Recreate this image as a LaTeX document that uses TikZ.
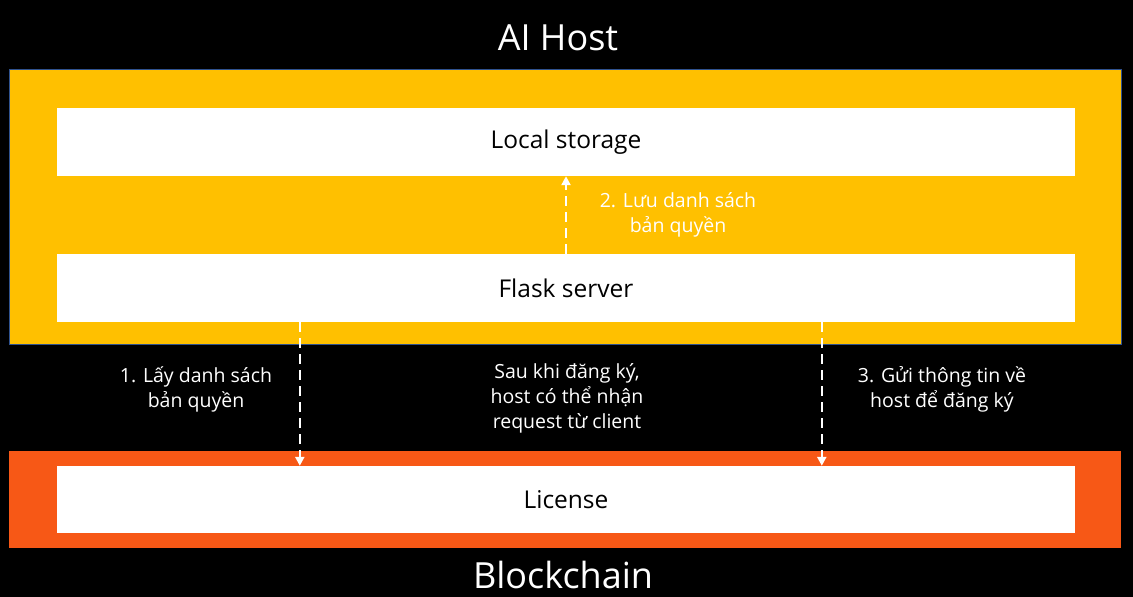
\documentclass[tikz,border=0pt]{standalone}
\usepackage{fontspec}
\setmainfont{Open Sans}
\usetikzlibrary{arrows.meta}
\definecolor{hostyellow}{HTML}{FFC000}
\definecolor{chainorange}{HTML}{F75816}
\definecolor{edgeblue}{HTML}{2F528F}
\tikzset{
  region/.style={rectangle, inner sep=0pt, minimum width=1112pt},
  innerbox/.style={rectangle, fill=white, inner sep=0pt, minimum width=1018pt, minimum height=68pt, font=\fontsize{24.5}{28}\selectfont, text=black},
  title/.style={font=\fontsize{36}{42}\selectfont, text=white},
  label/.style={align=center, text=white, font=\fontsize{19.5}{25}\selectfont},
  flow/.style={white, line width=2.5pt, dash pattern=on 10pt off 6pt, -{Triangle[width=9pt,length=9pt]}, shorten >=0pt}
}
\begin{document}
\begin{tikzpicture}[x=1pt,y=-1pt]
\fill[black] (0,0) rectangle (1133,597);
\useasboundingbox (0,0) rectangle (1133,597);
\node[title] (hosttitle) at (558,38) {AI Host};
\node[region, fill=hostyellow, draw=edgeblue, line width=0.8pt, minimum height=275pt] (host) at (565,206.5) {};
\node[innerbox] (local) at (566,142) {Local storage};
\node[innerbox] (flask) at (566,288) {Flask server};
\node[region, fill=chainorange, minimum height=97pt] (chain) at (565,499.5) {};
\node[innerbox, minimum height=67pt] (license) at (566,499.5) {License};
\node[title] (chaintitle) at (563,575) {Blockchain};
\draw[flow] (flask.north) -- (local.south);
\draw[flow] ([xshift=243pt]flask.south west) -- ([xshift=243pt]license.north west);
\draw[flow] ([xshift=765pt]flask.south west) -- ([xshift=765pt]license.north west);
\node[label] (l2) at (678,215) {2. Lưu danh sách\\bản quyền};
\node[label] (l1) at (196,389) {1. Lấy danh sách\\bản quyền};
\node[label] (lmid) at (567,398) {Sau khi đăng ký,\\host có thể nhận\\request từ client};
\node[label] (l3) at (942,389) {3. Gửi thông tin về\\host để đăng ký};
\end{tikzpicture}
\end{document}
